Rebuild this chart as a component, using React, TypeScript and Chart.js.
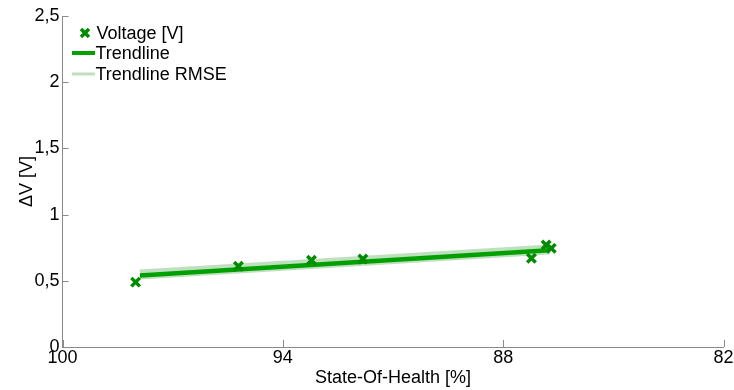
import React, { useEffect, useRef } from 'react';
import { Chart, registerables } from 'chart.js';
Chart.register(...registerables);

const sohPercent = [98.01, 95.21, 93.22, 91.82, 87.23, 86.83, 86.69];
const deltaVoltage = [0.49, 0.61, 0.655, 0.665, 0.67, 0.77, 0.745];
const trendSoh = [97.89, 86.74];
const trendVoltage = [0.54, 0.73];
const rmseVoltage = [0.547, 0.737];
const xTicks = [100, 94, 88, 82];
const yTicks = [0, 0.5, 1, 1.5, 2, 2.5];
const seriesLabels = ['Voltage [V]', 'Trendline', 'Trendline RMSE'];
const xTitle = 'State-Of-Health [%]';
const yTitle = '\u0394V [V]';

const MARKER = '#008c00';
const TREND = '#00a000';
const BAND = '#bfe0bf';
const AXIS = '#8a8a8a';
const FONT = "'Liberation Sans', Arial, sans-serif";
const FS = 18;

const decorPlugin = {
  id: 'decor',
  afterDraw(chart: any) {
    const { ctx, chartArea, scales } = chart;
    const x = scales.x;
    const y = scales.y;
    ctx.save();
    ctx.strokeStyle = AXIS;
    ctx.lineWidth = 1;
    xTicks.forEach((v) => {
      const px = Math.round(x.getPixelForValue(v)) + 0.5;
      ctx.beginPath();
      ctx.moveTo(px, chartArea.bottom);
      ctx.lineTo(px, chartArea.bottom - 7);
      ctx.stroke();
    });
    yTicks.forEach((v) => {
      const py = Math.round(y.getPixelForValue(v)) + 0.5;
      ctx.beginPath();
      ctx.moveTo(chartArea.left, py);
      ctx.lineTo(chartArea.left + 6, py);
      ctx.stroke();
    });
    const lx = chartArea.left;
    const ly = chartArea.top;
    ctx.font = `${FS}px ${FONT}`;
    ctx.fillStyle = '#000';
    ctx.textBaseline = 'middle';
    ctx.textAlign = 'left';
    const mx = lx + 22.5;
    const my = ly + 17;
    ctx.strokeStyle = MARKER;
    ctx.lineWidth = 3.5;
    const r = 4;
    ctx.beginPath();
    ctx.moveTo(mx - r, my - r);
    ctx.lineTo(mx + r, my + r);
    ctx.moveTo(mx + r, my - r);
    ctx.lineTo(mx - r, my + r);
    ctx.stroke();
    ctx.fillText(seriesLabels[0], lx + 34, my + 1);
    const ty = ly + 37;
    ctx.strokeStyle = TREND;
    ctx.lineWidth = 4;
    ctx.beginPath();
    ctx.moveTo(lx + 9.5, ty);
    ctx.lineTo(lx + 32.5, ty);
    ctx.stroke();
    ctx.fillText(seriesLabels[1], lx + 33, ty + 1);
    const ry = ly + 58;
    ctx.strokeStyle = BAND;
    ctx.lineWidth = 3;
    ctx.beginPath();
    ctx.moveTo(lx + 9.5, ry);
    ctx.lineTo(lx + 32.5, ry);
    ctx.stroke();
    ctx.fillText(seriesLabels[2], lx + 33, ry + 1);
    ctx.restore();
  },
};

export default function App() {
  const ref = useRef<HTMLCanvasElement | null>(null);
  useEffect(() => {
    document.body.style.margin = '0';
    if (!ref.current) return;
    Chart.defaults.font.family = FONT;
    Chart.defaults.font.size = FS;
    Chart.defaults.color = '#000';
    const chart = new Chart(ref.current, {
      type: 'scatter',
      data: {
        datasets: [
          {
            label: seriesLabels[0],
            data: sohPercent.map((s, i) => ({ x: s, y: deltaVoltage[i] })),
            pointStyle: 'crossRot',
            pointRadius: 6,
            pointBorderWidth: 3.5,
            borderColor: MARKER,
            backgroundColor: MARKER,
            showLine: false,
          },
          {
            label: seriesLabels[1],
            data: trendSoh.map((s, i) => ({ x: s, y: trendVoltage[i] })),
            showLine: true,
            borderColor: TREND,
            borderWidth: 4.5,
            pointRadius: 0,
          },
          {
            label: seriesLabels[2],
            data: trendSoh.map((s, i) => ({ x: s, y: rmseVoltage[i] })),
            showLine: true,
            borderColor: BAND,
            borderWidth: 10,
            pointRadius: 0,
          },
        ],
      },
      options: {
        animation: false,
        responsive: true,
        maintainAspectRatio: false,
        layout: { autoPadding: false, padding: { top: 16, right: 10.5, left: 0, bottom: 0 } },
        plugins: { legend: { display: false }, tooltip: { enabled: false } },
        scales: {
          x: {
            type: 'linear',
            reverse: true,
            min: 82,
            max: 100,
            afterBuildTicks: (s: any) => {
              s.ticks = xTicks.map((v) => ({ value: v }));
            },
            ticks: { padding: 0, maxRotation: 0, autoSkip: false, font: { size: FS } },
            grid: { display: false, drawTicks: false },
            border: { display: true, color: AXIS },
            title: { display: true, text: xTitle, padding: { top: 0, bottom: 1 }, font: { size: FS } },
            afterFit: (s: any) => {
              s.height = 43;
              s.paddingLeft = 0;
              s.paddingRight = 0;
            },
          },
          y: {
            type: 'linear',
            min: 0,
            max: 2.5,
            afterBuildTicks: (s: any) => {
              s.ticks = yTicks.map((v) => ({ value: v }));
            },
            ticks: {
              padding: 3,
              font: { size: FS },
              callback: (v: any) => String(v).replace('.', ','),
            },
            grid: { display: false, drawTicks: false },
            border: { display: true, color: AXIS },
            title: { display: true, text: yTitle, padding: { top: 16, bottom: 0 }, font: { size: FS } },
            afterFit: (s: any) => {
              s.width = 62.5;
              s.paddingTop = 0;
              s.paddingBottom = 0;
            },
          },
        },
      },
      plugins: [decorPlugin],
    });
    return () => chart.destroy();
  }, []);
  return (
    <div style={{ width: 734, height: 390, position: 'relative' }}>
      <canvas ref={ref} />
    </div>
  );
}
